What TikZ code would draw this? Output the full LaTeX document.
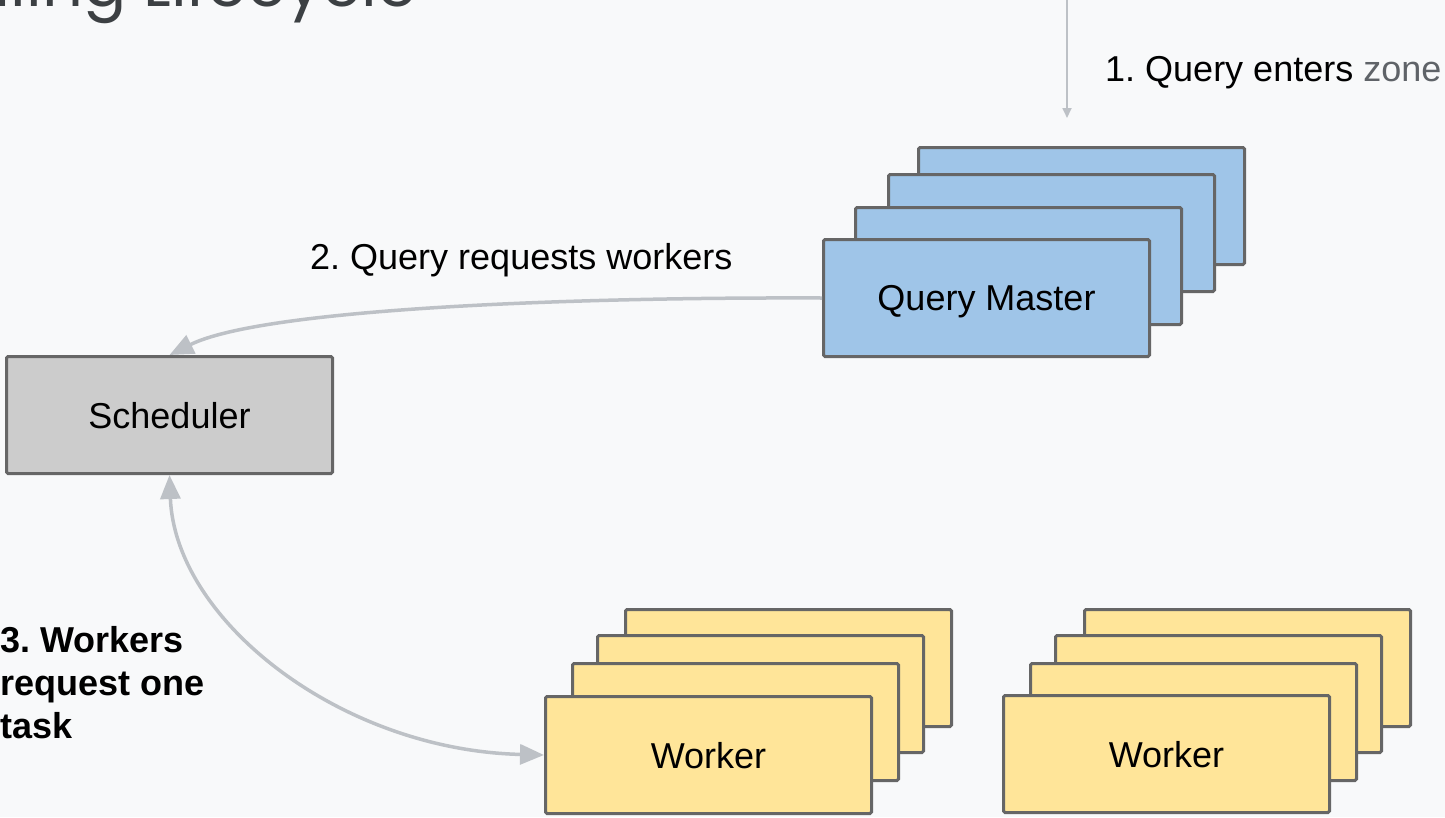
\documentclass[tikz,border=0pt]{standalone}
\usepackage{fontspec}
\setmainfont{Liberation Sans}
\newfontfamily\titlefont{Poppins}
\usetikzlibrary{arrows.meta}
\frenchspacing

\definecolor{bg}{HTML}{F8F9FA}
\definecolor{edge}{HTML}{666666}
\definecolor{conn}{HTML}{BDC1C6}
\definecolor{qmfill}{HTML}{9FC5E8}
\definecolor{wkfill}{HTML}{FFE599}
\definecolor{schfill}{HTML}{CCCCCC}
\definecolor{titlecol}{HTML}{3C4043}
\definecolor{subtle}{HTML}{5F6368}

\begin{document}
\begin{tikzpicture}[x=1pt,y=-1pt,
  card/.style={draw=edge, line width=3pt, rounded corners=1.5pt,
    minimum width=326pt, minimum height=117pt, anchor=north west,
    inner sep=0pt, text depth=0pt, font=\fontsize{36}{43}\selectfont},
  qmcard/.style={card, fill=qmfill},
  wkcard/.style={card, fill=wkfill},
  schcard/.style={card, fill=schfill},
  steplabel/.style={inner sep=0pt, font=\fontsize{36}{43}\selectfont},
  thinflow/.style={draw=conn, line width=1.8pt, -{Triangle[length=10pt,width=9pt]}},
  flow/.style={draw=conn, line width=3.5pt, -{Triangle[length=24pt,width=20pt]}},
  twoway/.style={draw=conn, line width=3.5pt,
    {Triangle[length=24pt,width=20pt]}-{Triangle[length=24pt,width=20pt]}}
]
% canvas
\fill[bg] (0,0) rectangle (1445,817);
\useasboundingbox (0,0) rectangle (1445,817);

% slide title (runs off the top edge)
\node[anchor=base east, inner sep=0pt, text=titlecol,
      font=\titlefont\fontsize{64}{64}\selectfont] (title) at (417,6) {Scheduling Lifecycle};

% query master stack
\node[qmcard] (qm4) at (917,146) {};
\node[qmcard] (qm3) at (887,173) {};
\node[qmcard] (qm2) at (854,206) {};
\node[qmcard] (qm1) at (822,238) {Query Master};

% scheduler
\node[schcard] (sch) at (5,355) {Scheduler};

% worker stacks
\node[wkcard] (wa4) at (624,608) {};
\node[wkcard] (wa3) at (596,634) {};
\node[wkcard] (wa2) at (571,662) {};
\node[wkcard] (wa1) at (544,695) {Worker};

\node[wkcard] (wb4) at (1083,608) {};
\node[wkcard] (wb3) at (1054,634) {};
\node[wkcard] (wb2) at (1029,662) {};
\node[wkcard] (wb1) at (1002,694) {Worker};

% step labels
\node[steplabel, anchor=base west] (lab1) at (1105,81)
  {1. Query enters \textcolor{subtle}{zone}};
\node[steplabel, anchor=base west] (lab2) at (310,269)
  {2. Query requests workers};
\node[steplabel, anchor=north west, align=left,
      font=\bfseries\fontsize{36}{43}\selectfont] (lab3) at (0,626)
  {3. Workers\\request one\\task};

% connectors
\coordinate (entry) at (1067,-2);
\coordinate (entryend) at (1067,118);
\draw[thinflow] (entry) -- (entryend);
\draw[flow] (qm1.west) .. controls (550,297) and (260,310) .. (sch.north);
\draw[twoway] (sch.south) .. controls (175,620) and (340,750) .. (wa1.west);
\end{tikzpicture}
\end{document}
